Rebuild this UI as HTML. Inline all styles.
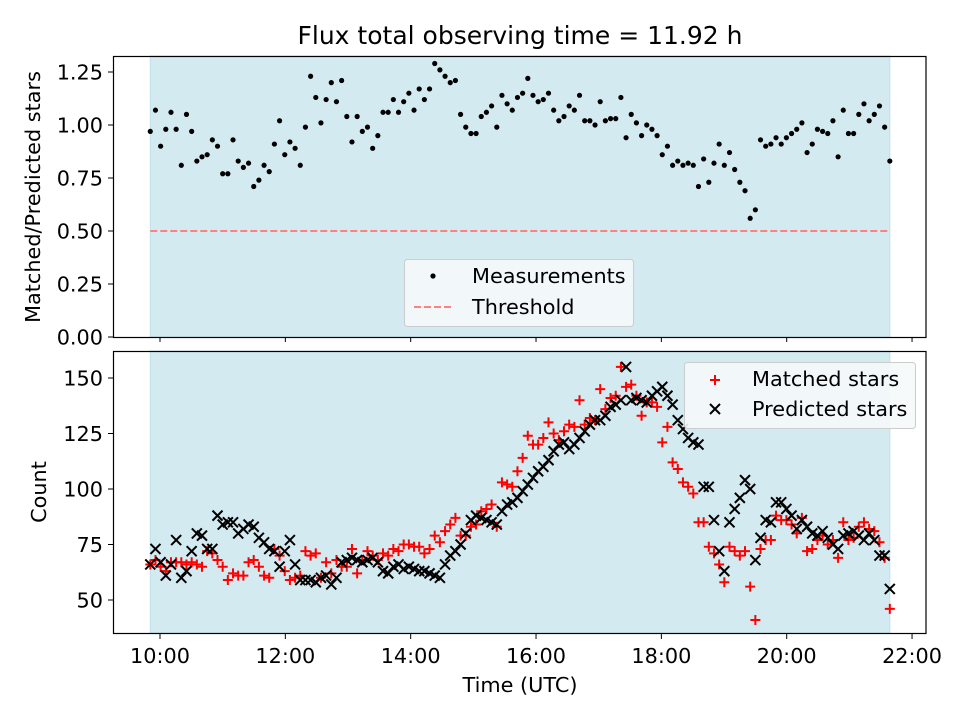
<!DOCTYPE html>
<html><head><meta charset="utf-8"><style>
body{margin:0;background:#fff}
svg{font-family:"DejaVu Sans","Liberation Sans",sans-serif}
</style></head><body>
<svg id="chart" width="960" height="720" viewBox="0 0 960 720"></svg>
<script>
const ratioValues=[0.97,1.07,0.90,0.98,1.06,0.98,0.81,1.05,0.97,0.83,0.85,0.86,0.93,0.90,0.77,0.77,0.93,0.83,0.80,0.82,0.71,0.74,0.81,0.78,0.91,1.02,0.86,0.92,0.89,0.81,0.99,1.23,1.13,1.01,1.12,1.20,1.11,1.21,1.04,0.92,1.04,0.97,0.99,0.89,0.95,1.06,1.06,1.12,1.06,1.11,1.15,1.07,1.17,1.12,1.17,1.29,1.26,1.23,1.20,1.21,1.05,0.99,0.96,0.96,1.04,1.06,1.09,0.99,1.14,1.10,1.07,1.13,1.15,1.22,1.14,1.11,1.12,1.15,1.07,1.02,1.04,1.09,1.07,1.14,1.02,1.02,1.00,1.11,1.02,1.03,1.03,1.13,0.94,1.05,1.01,0.95,1.00,0.98,0.95,0.86,0.90,0.81,0.83,0.81,0.82,0.81,0.71,0.84,0.73,0.82,0.91,0.81,0.87,0.79,0.73,0.69,0.56,0.60,0.93,0.90,0.91,0.94,0.91,0.94,0.96,0.98,1.01,0.87,0.91,0.98,0.97,0.96,1.02,0.85,1.07,0.96,0.96,1.05,1.10,1.02,1.05,1.09,0.99,0.83];
const predictedValues=[66,73,67,61,66,77,60,63,72,80,79,73,73,88,84,85,85,80,82,84,83,78,76,73,72,65,72,77,66,59,59,59,58,60,61,57,60,67,68,69,68,67,68,69,67,63,62,65,66,64,65,64,63,63,62,61,60,66,70,72,75,80,86,88,87,86,85,84,90,93,94,96,99,102,105,108,110,113,117,120,121,118,120,123,126,129,131,131,133,137,138,140,155,140,141,140,139,142,144,146,142,138,131,127,123,121,120,101,101,86,72,63,85,91,96,104,100,68,78,86,85,94,94,91,88,82,86,83,80,79,81,78,75,73,79,80,81,79,77,80,77,70,70,55];
const matchedValues=[66,68,65,63,67,67,67,66,67,66,65,72,71,68,65,59,62,61,61,67,68,65,61,60,73,70,63,59,60,61,72,70,71,60,67,62,68,65,65,73,62,68,72,70,68,71,70,73,72,75,75,74,74,71,73,79,76,81,84,87,79,79,83,84,90,91,93,83,103,102,101,108,114,124,120,120,123,130,125,122,126,129,128,140,129,132,131,145,136,141,142,155,146,147,142,133,139,139,137,121,128,112,109,103,101,98,85,85,74,71,66,58,74,72,70,72,56,41,73,77,77,88,86,86,84,80,87,72,73,77,79,75,77,69,85,77,78,83,85,82,81,76,69,46];
const xTickLabels=["10:00","12:00","14:00","16:00","18:00","20:00","22:00"];
const xTickHours=[10,12,14,16,18,20,22];
const topYTicks=[0,0.25,0.5,0.75,1.0,1.25];
const botYTicks=[50,75,100,125,150];
const startHour=9.845, stepHour=0.08252, threshold=0.5;

const NS="http://www.w3.org/2000/svg";
const svg=document.getElementById('chart');
function el(tag,attrs,parent,text){const e=document.createElementNS(NS,tag);for(const k in attrs)e.setAttribute(k,attrs[k]);if(text!==undefined)e.textContent=text;(parent||svg).appendChild(e);return e;}
const X=h=>160+(h-10)*62.67;
const Yt=v=>337-v*212;
const Yb=v=>600-(v-50)*2.22;
const t=i=>startHour+i*stepHour;
const tEnd=t(ratioValues.length-1);
const FS='20.8';

let e=el('text',{x:520,y:44,'text-anchor':'middle','font-size':'25'},svg,'Flux total observing time = 11.92 h');


function panel(top,bottom,name){
  const g=el('g',{});
  
  const s=el('rect',{x:X(startHour),y:top,width:X(tEnd)-X(startHour),height:bottom-top,fill:'#d4eaf1',stroke:'#bfe0ea','stroke-width':1},g);
  
  return g;
}
function frame(top,bottom,g){el('rect',{x:113.5,y:top+0.5,width:812.5,height:bottom-top,fill:'none',stroke:'#000','stroke-width':1.2},g);}

// TOP PANEL
const gt=panel(56,337,'ratio-panel');
const th=el('line',{x1:X(startHour),x2:X(tEnd),y1:Yt(threshold),y2:Yt(threshold),stroke:'#ff8080','stroke-width':2,'stroke-dasharray':'7,3'},gt);

ratioValues.forEach((v,i)=>{const c=el('circle',{cx:X(t(i)),cy:Yt(v),r:2.6,fill:'#000'},gt);
});
frame(56,337,gt);
topYTicks.forEach(v=>{const y=Yt(v);el('line',{x1:108,x2:113,y1:y,y2:y,stroke:'#000'},gt);
const l=el('text',{x:103,y:y+7.5,'text-anchor':'end','font-size':FS},gt,v.toFixed(2));
});
xTickHours.forEach(h=>el('line',{x1:X(h),x2:X(h),y1:337,y2:342,stroke:'#000'},gt));
e=el('text',{x:0,y:0,'text-anchor':'middle','font-size':FS,transform:'translate(40,197) rotate(-90)'},gt,'Matched/Predicted stars');

const lt=el('g',{},gt);
el('rect',{x:404.5,y:259.5,width:229,height:67,rx:3,fill:'#f5f9fb','fill-opacity':0.9,stroke:'#ccc'},lt);
el('circle',{cx:433,cy:276,r:2.6,fill:'#000'},lt);
el('text',{x:472,y:283,'font-size':FS},lt,'Measurements');
el('line',{x1:414,x2:454,y1:307,y2:307,stroke:'#ff8080','stroke-width':2,'stroke-dasharray':'7,3'},lt);
el('text',{x:472,y:314,'font-size':FS},lt,'Threshold');

// BOTTOM PANEL
const gb=panel(351,633,'count-panel');
matchedValues.forEach((v,i)=>{const x=X(t(i)),y=Yb(v);
const p=el('path',{d:`M${x-5},${y}H${x+5}M${x},${y-5}V${y+5}`,stroke:'#f00','stroke-width':2,fill:'none'},gb);
});
predictedValues.forEach((v,i)=>{const x=X(t(i)),y=Yb(v);
const p=el('path',{d:`M${x-5},${y-5}L${x+5},${y+5}M${x-5},${y+5}L${x+5},${y-5}`,stroke:'#000','stroke-width':2,fill:'none'},gb);
});
frame(351,633,gb);
botYTicks.forEach(v=>{const y=Yb(v);el('line',{x1:108,x2:113,y1:y,y2:y,stroke:'#000'},gb);
const l=el('text',{x:103,y:y+7.5,'text-anchor':'end','font-size':FS},gb,String(v));
});
xTickHours.forEach((h,k)=>{el('line',{x1:X(h),x2:X(h),y1:634,y2:639,stroke:'#000'},gb);
const l=el('text',{x:X(h),y:663,'text-anchor':'middle','font-size':FS},gb,xTickLabels[k]);
});
e=el('text',{x:0,y:0,'text-anchor':'middle','font-size':FS,transform:'translate(46,492) rotate(-90)'},gb,'Count');

e=el('text',{x:520,y:692,'text-anchor':'middle','font-size':FS},gb,'Time (UTC)');

const lb=el('g',{},gb);
el('rect',{x:684.5,y:362.5,width:231,height:66,rx:3,fill:'#f5f9fb','fill-opacity':0.9,stroke:'#ccc'},lb);
el('path',{d:'M710,380H720M715,375V385',stroke:'#f00','stroke-width':2},lb);
el('text',{x:752,y:386,'font-size':FS},lb,'Matched stars');
el('path',{d:'M710,404L720,414M710,414L720,404',stroke:'#000','stroke-width':2},lb);
el('text',{x:752,y:416,'font-size':FS},lb,'Predicted stars');
</script>
</body></html>
